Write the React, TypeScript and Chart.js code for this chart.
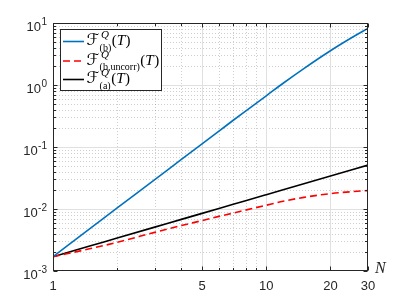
import React, { useEffect, useRef } from "react";
import { Chart, registerables } from "chart.js";

Chart.register(...registerables);

// ---- data ----
const nValues = [1, 1.5, 2, 3, 4, 5, 6, 7, 8, 10, 12, 15, 20, 25, 30];
const seriesB = [0.0017, 0.0049, 0.0104, 0.0297, 0.063, 0.112, 0.18, 0.27, 0.38, 0.67, 1.067, 1.84, 3.57, 5.72, 8.2];
const seriesBUncorr = [0.0017, 0.0023, 0.0029, 0.0042, 0.0054, 0.0065, 0.0076, 0.0086, 0.0096, 0.0115, 0.0133, 0.0154, 0.0177, 0.019, 0.0198];
const seriesA = [0.0017, 0.00255, 0.0034, 0.0051, 0.0068, 0.0085, 0.0102, 0.0119, 0.0136, 0.017, 0.0204, 0.0255, 0.034, 0.0425, 0.051];

const xTickValues = [1, 5, 10, 20, 30];
const xTickLabels = ["1", "5", "10", "20", "30"];
const xMinorValues = [2, 3, 4, 6, 7, 8, 9];
const yDecadeExponents = [-3, -2, -1, 0, 1];
const yExponentLabels = ["-3", "-2", "-1", "0", "1"];
const yMinorMultipliers = [2, 3, 4, 5, 6, 7, 8, 9];
const legendSubscripts = ["(b)", "(b,uncorr)", "(a)"];
const xAxisLabel = "N";

const AXIS_COLOR = "#262626";

const matlabPlugin = {
  id: "matlabAxes",
  beforeDatasetsDraw(chart: any) {
    const { ctx, chartArea: a, scales } = chart;
    const xs = scales.x;
    const ys = scales.y;
    ctx.save();
    ctx.lineWidth = 1;
    // minor dotted grid
    ctx.strokeStyle = "rgba(38,38,38,0.22)";
    ctx.setLineDash([1, 2]);
    xMinorValues.forEach((v) => {
      const px = Math.round(xs.getPixelForValue(v)) + 0.5;
      ctx.beginPath();
      ctx.moveTo(px, a.top);
      ctx.lineTo(px, a.bottom);
      ctx.stroke();
    });
    yDecadeExponents.slice(0, -1).forEach((e) => {
      yMinorMultipliers.forEach((m) => {
        const py = Math.round(ys.getPixelForValue(m * Math.pow(10, e))) + 0.5;
        ctx.beginPath();
        ctx.moveTo(a.left, py);
        ctx.lineTo(a.right, py);
        ctx.stroke();
      });
    });
    // major solid grid
    ctx.setLineDash([]);
    ctx.strokeStyle = "#e0e0e0";
    xTickValues.forEach((v) => {
      const px = Math.round(xs.getPixelForValue(v)) + 0.5;
      if (px <= a.left + 1 || px >= a.right - 1) return;
      ctx.beginPath();
      ctx.moveTo(px, a.top);
      ctx.lineTo(px, a.bottom);
      ctx.stroke();
    });
    yDecadeExponents.forEach((e) => {
      const py = Math.round(ys.getPixelForValue(Math.pow(10, e))) + 0.5;
      if (py <= a.top + 1 || py >= a.bottom - 1) return;
      ctx.beginPath();
      ctx.moveTo(a.left, py);
      ctx.lineTo(a.right, py);
      ctx.stroke();
    });
    ctx.restore();
  },
  afterDatasetsDraw(chart: any) {
    const { ctx, chartArea: a, scales } = chart;
    const xs = scales.x;
    const ys = scales.y;
    ctx.save();
    ctx.strokeStyle = AXIS_COLOR;
    ctx.fillStyle = AXIS_COLOR;
    ctx.lineWidth = 1;
    ctx.setLineDash([]);
    const L = Math.round(a.left) + 0.5;
    const R = Math.round(a.right) - 0.5;
    const T = Math.round(a.top) + 0.5;
    const B = Math.round(a.bottom) - 0.5;
    ctx.strokeRect(L, T, R - L, B - T);

    // ticks
    const major = 4;
    const minor = 2.5;
    ctx.beginPath();
    xTickValues.forEach((v) => {
      const px = Math.round(xs.getPixelForValue(v)) + 0.5;
      ctx.moveTo(px, B); ctx.lineTo(px, B - major);
      ctx.moveTo(px, T); ctx.lineTo(px, T + major);
    });
    xMinorValues.forEach((v) => {
      const px = Math.round(xs.getPixelForValue(v)) + 0.5;
      ctx.moveTo(px, B); ctx.lineTo(px, B - minor);
      ctx.moveTo(px, T); ctx.lineTo(px, T + minor);
    });
    yDecadeExponents.forEach((e, i) => {
      const py = Math.round(ys.getPixelForValue(Math.pow(10, e))) + 0.5;
      ctx.moveTo(L, py); ctx.lineTo(L + major, py);
      ctx.moveTo(R, py); ctx.lineTo(R - major, py);
      if (i < yDecadeExponents.length - 1) {
        yMinorMultipliers.forEach((m) => {
          const pm = Math.round(ys.getPixelForValue(m * Math.pow(10, e))) + 0.5;
          ctx.moveTo(L, pm); ctx.lineTo(L + minor, pm);
          ctx.moveTo(R, pm); ctx.lineTo(R - minor, pm);
        });
      }
    });
    ctx.stroke();

    // x tick labels
    ctx.font = "13px 'Liberation Sans', Arial, sans-serif";
    ctx.textAlign = "center";
    ctx.textBaseline = "alphabetic";
    xTickValues.forEach((v, i) => {
      const px = xs.getPixelForValue(v);
      ctx.fillText(xTickLabels[i], px, a.bottom + 19);
    });

    // y tick labels: 10 with superscript exponent
    const rightEdge = a.left - 6;
    yDecadeExponents.forEach((e, i) => {
      const py = ys.getPixelForValue(Math.pow(10, e));
      ctx.font = "10px 'Liberation Sans', Arial, sans-serif";
      ctx.textAlign = "left";
      const expW = ctx.measureText(yExponentLabels[i]).width;
      ctx.font = "13px 'Liberation Sans', Arial, sans-serif";
      const baseW = ctx.measureText("10").width;
      const x0 = rightEdge - expW - baseW - 0.5;
      ctx.fillText("10", x0, py + 7.5);
      ctx.font = "10px 'Liberation Sans', Arial, sans-serif";
      ctx.fillText(yExponentLabels[i], x0 + baseW + 0.5, py + 1.5);
    });

    // axis label N
    ctx.font = "italic 16px 'Liberation Serif', 'DejaVu Serif', serif";
    ctx.textAlign = "left";
    ctx.fillText(xAxisLabel, a.right + 7, a.bottom + 2);

    // legend
    const lx = 60.5, ly = 29.5, lw = 101, lh = 61;
    ctx.fillStyle = "#ffffff";
    ctx.fillRect(lx, ly, lw, lh);
    ctx.strokeStyle = AXIS_COLOR;
    ctx.lineWidth = 1;
    ctx.strokeRect(lx, ly, lw, lh);
    const rows = [41.5, 61, 79.5];
    chart.data.datasets.forEach((ds: any, i: number) => {
      const cy = rows[i];
      ctx.save();
      ctx.strokeStyle = ds.borderColor;
      ctx.lineWidth = ds.borderWidth;
      ctx.setLineDash(ds.borderDash || []);
      ctx.beginPath();
      ctx.moveTo(63, cy);
      ctx.lineTo(84, cy);
      ctx.stroke();
      ctx.restore();

      const base = cy + 3.5;
      ctx.fillStyle = "#000000";
      ctx.textAlign = "left";
      ctx.font = "16px 'DejaVu Serif', 'DejaVu Sans', serif";
      let x = 86.5;
      ctx.fillText("\u2131", x, base);
      x += ctx.measureText("\u2131").width + 0.5;
      ctx.font = "italic 11px 'Liberation Serif', 'DejaVu Serif', serif";
      ctx.fillText("Q", x + 1.5, base - 7);
      const supW = ctx.measureText("Q").width + 1.5;
      ctx.font = "10px 'Liberation Serif', 'DejaVu Serif', serif";
      ctx.fillText(legendSubscripts[i], x, base + 5.5);
      const subW = ctx.measureText(legendSubscripts[i]).width;
      x += Math.max(supW, subW) + 0.5;
      ctx.font = "15px 'Liberation Serif', 'DejaVu Serif', serif";
      ctx.fillText("(", x, base);
      x += ctx.measureText("(").width;
      ctx.font = "italic 15px 'Liberation Serif', 'DejaVu Serif', serif";
      ctx.fillText("T", x, base);
      x += ctx.measureText("T").width + 0.5;
      ctx.font = "15px 'Liberation Serif', 'DejaVu Serif', serif";
      ctx.fillText(")", x, base);
    });
    ctx.restore();
  },
};

export default function App() {
  const canvasRef = useRef<HTMLCanvasElement | null>(null);

  useEffect(() => {
    const canvas = canvasRef.current;
    if (!canvas) return;
    const chart = new Chart(canvas, {
      type: "line",
      data: {
        datasets: [
          {
            label: "F(b)",
            data: nValues.map((n, i) => ({ x: n, y: seriesB[i] })),
            borderColor: "#0072BD",
            borderWidth: 1.6,
            pointRadius: 0,
            cubicInterpolationMode: "monotone",
            fill: false,
          },
          {
            label: "F(b,uncorr)",
            data: nValues.map((n, i) => ({ x: n, y: seriesBUncorr[i] })),
            borderColor: "#FF0000",
            borderWidth: 1.6,
            borderDash: [7, 4],
            pointRadius: 0,
            cubicInterpolationMode: "monotone",
            fill: false,
          },
          {
            label: "F(a)",
            data: nValues.map((n, i) => ({ x: n, y: seriesA[i] })),
            borderColor: "#000000",
            borderWidth: 1.6,
            pointRadius: 0,
            cubicInterpolationMode: "monotone",
            fill: false,
          },
        ],
      },
      options: {
        animation: false,
        responsive: false,
        maintainAspectRatio: false,
        layout: { padding: { left: 0, right: 39, top: 23, bottom: 0 } },
        plugins: { legend: { display: false }, tooltip: { enabled: false } },
        scales: {
          x: {
            type: "logarithmic",
            min: 1,
            max: 30,
            ticks: { display: false },
            grid: { display: false },
            border: { display: false },
            afterFit: (s: any) => { s.height = 34; },
          },
          y: {
            type: "logarithmic",
            min: 0.001,
            max: 10,
            ticks: { display: false },
            grid: { display: false },
            border: { display: false },
            afterFit: (s: any) => { s.width = 53; },
          },
        },
      } as any,
      plugins: [matlabPlugin],
    });
    return () => chart.destroy();
  }, []);

  return (
    <div style={{ position: "fixed", left: 0, top: 0, width: 407, height: 305, background: "#fff" }}>
      <canvas ref={canvasRef} width={407} height={305} style={{ width: 407, height: 305, display: "block" }} />
    </div>
  );
}
